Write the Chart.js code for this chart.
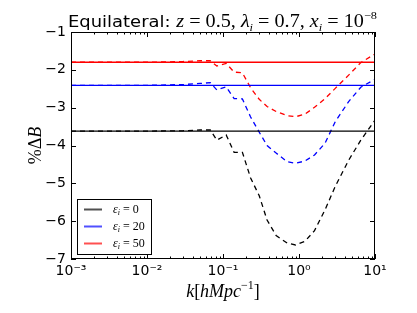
<!DOCTYPE html>
<html>
<head>
<meta charset="utf-8">
<script src="https://cdn.jsdelivr.net/npm/chart.js"></script>
<style>
  html, body { margin: 0; padding: 0; background: #fff; }
  canvas { display: block; }
</style>
</head>
<body>
<canvas id="chart" width="417" height="313"></canvas>
<script>
const k = [0.001, 0.01, 0.03, 0.05, 0.068, 0.083, 0.11, 0.14, 0.18, 0.23, 0.3, 0.38,
           0.5, 0.7, 0.9, 1.2, 1.6, 2.2, 3, 4.5, 6.5, 10];
// %ΔB, dashed curves
const deltaEps0 = [-3.62, -3.62, -3.61, -3.59, -3.59, -3.86, -3.72, -4.18, -4.18, -4.85, -5.33, -5.97,
                   -6.38, -6.58, -6.63, -6.53, -6.25, -5.70, -5.08, -4.39, -3.86, -3.33];
const deltaEps20 = [-2.41, -2.41, -2.39, -2.36, -2.34, -2.53, -2.45, -2.76, -2.77, -3.24, -3.65, -4.00,
                    -4.20, -4.43, -4.47, -4.41, -4.25, -3.94, -3.37, -2.84, -2.46, -2.25];
const deltaEps50 = [-1.80, -1.80, -1.78, -1.76, -1.76, -1.90, -1.83, -2.06, -2.08, -2.47, -2.78, -2.97,
                    -3.10, -3.21, -3.24, -3.17, -2.99, -2.76, -2.49, -2.14, -1.81, -1.58];
// solid reference levels
const kEnds = [0.001, 10];
const baseLevels = [-3.62, -2.41, -1.80];
const epsValues = ["0", "20", "50"];
const xTickValues = [0.001, 0.01, 0.1, 1, 10];
const xTickLabels = ["10⁻³", "10⁻²", "10⁻¹", "10⁰", "10¹"];
const yMin = -7, yMax = -1;

const colors = ["#000000", "#0000ff", "#ff0000"];
const legendColors = ["#505050", "#5050ff", "#ff5050"];
const curves = [deltaEps0, deltaEps20, deltaEps50];

const SERIF = "'Liberation Serif', serif";
const SANS = "'DejaVu Sans', sans-serif";

const datasets = [];
curves.forEach((c, i) => {
  datasets.push({
    label: "eps=" + epsValues[i],
    data: kEnds.map(x => ({ x: x, y: baseLevels[i] })),
    borderColor: colors[i],
    borderWidth: 1.3,
    pointRadius: 0,
    fill: false
  });
  datasets.push({
    label: "eps=" + epsValues[i] + " (dashed)",
    data: k.map((x, j) => ({ x: x, y: c[j] })),
    borderColor: colors[i],
    borderWidth: 1.3,
    borderDash: [5, 4],
    pointRadius: 0,
    fill: false,
    tension: 0
  });
});

// draws a run of text pieces with different fonts
function drawRich(ctx, segs, x0, y0, fitWidth) {
  let total = 0;
  segs.forEach(s => { ctx.font = s[1]; total += ctx.measureText(s[0]).width; });
  const sc = fitWidth ? fitWidth / total : 1;
  ctx.save();
  ctx.translate(x0, y0);
  ctx.scale(sc, 1);
  let cx = 0;
  ctx.textBaseline = "alphabetic";
  ctx.textAlign = "left";
  segs.forEach(s => {
    ctx.font = s[1];
    ctx.fillText(s[0], cx, s[2] || 0);
    cx += ctx.measureText(s[0]).width;
  });
  ctx.restore();
  return total * sc;
}
function richWidth(ctx, segs) {
  let total = 0;
  segs.forEach(s => { ctx.font = s[1]; total += ctx.measureText(s[0]).width; });
  return total;
}

const decorations = {
  id: "decorations",
  afterDraw(chart) {
    const ctx = chart.ctx;
    const a = chart.chartArea;
    const xs = chart.scales.x, ys = chart.scales.y;
    ctx.save();
    ctx.strokeStyle = "#000";
    ctx.fillStyle = "#000";
    ctx.lineWidth = 1;
    // frame
    ctx.strokeRect(Math.round(a.left) + 0.5, Math.round(a.top) + 0.5,
                   Math.round(a.right - a.left) - 1, Math.round(a.bottom - a.top) - 1);
    // x ticks (major + minor), inward, top and bottom
    ctx.beginPath();
    for (let d = -3; d <= 1; d++) {
      for (let m = 1; m <= 9; m++) {
        const v = m * Math.pow(10, d);
        if (v > 10.0001) break;
        const px = Math.round(xs.getPixelForValue(v)) + 0.5;
        const len = m === 1 ? 5 : 2.5;
        ctx.moveTo(px, a.bottom); ctx.lineTo(px, a.bottom - len);
        ctx.moveTo(px, a.top); ctx.lineTo(px, a.top + len);
      }
    }
    // y ticks, inward, left and right
    for (let v = yMin; v <= yMax; v++) {
      const py = Math.round(ys.getPixelForValue(v)) + 0.5;
      ctx.moveTo(a.left, py); ctx.lineTo(a.left + 5, py);
      ctx.moveTo(a.right, py); ctx.lineTo(a.right - 5, py);
    }
    ctx.stroke();

    // title
    const sub = "italic 11px " + SERIF;
    const it = "italic 18px " + SERIF;
    const rm = "18px " + SERIF;
    drawRich(ctx, [
      ["Equilateral: ", "16px " + SANS, 0],
      ["z", it, 0], [" = 0.5, ", rm, 0],
      ["λ", it, 0], ["i", sub, 4], [" = 0.7, ", rm, 0],
      ["x", it, 0], ["i", sub, 4], [" = 10", rm, 0],
      ["−8", "11px " + SERIF, -8]
    ], 68, 27, 309);

    // y label
    const ySegs = [["%", "18px " + SERIF, 0], ["Δ", "18px " + SERIF, 0], ["B", "italic 18px " + SERIF, 0]];
    ctx.save();
    ctx.translate(41, (a.top + a.bottom) / 2);
    ctx.rotate(-Math.PI / 2);
    drawRich(ctx, ySegs, -richWidth(ctx, ySegs) / 2, 0);
    ctx.restore();

    // x label
    const xSegs = [["k", it, 0], ["[", rm, 0], ["hMpc", it, 0], ["−1", "12px " + SERIF, -8], ["]", rm, 0]];
    drawRich(ctx, xSegs, (a.left + a.right) / 2 - richWidth(ctx, xSegs) / 2, 297);

    // legend
    ctx.fillStyle = "#fff";
    ctx.fillRect(77, 199, 74, 55);
    ctx.strokeStyle = "#000";
    ctx.strokeRect(77.5, 199.5, 74, 55);
    ctx.fillStyle = "#000";
    epsValues.forEach((e, i) => {
      const y = 209 + i * 17;
      ctx.strokeStyle = legendColors[i];
      ctx.lineWidth = 2;
      ctx.beginPath();
      ctx.moveTo(84, y + 0.5); ctx.lineTo(102, y + 0.5);
      ctx.stroke();
      drawRich(ctx, [
        ["ε", "italic 12px " + SERIF, 0], ["i", "italic 8px " + SERIF, 2],
        [" = " + e, "12px " + SERIF, 0]
      ], 113, y + 4);
    });
    ctx.restore();
  }
};

new Chart(document.getElementById("chart"), {
  type: "line",
  data: { datasets: datasets },
  options: {
    responsive: false,
    devicePixelRatio: 1,
    animation: false,
    layout: { padding: { left: 0, right: 42, top: 32, bottom: 0 } },
    plugins: { legend: { display: false }, tooltip: { enabled: false }, title: { display: false } },
    scales: {
      x: {
        type: "logarithmic",
        min: 0.001, max: 10,
        afterBuildTicks: s => { s.ticks = xTickValues.map(v => ({ value: v })); },
        afterFit: s => { s.height = 54; },
        grid: { display: false, drawTicks: false },
        border: { display: false },
        ticks: {
          autoSkip: false, maxRotation: 0, padding: 4,
          color: "#000",
          font: { family: "DejaVu Sans", size: 14 },
          callback: v => { const i = xTickValues.indexOf(v); return i >= 0 ? xTickLabels[i] : ""; }
        }
      },
      y: {
        min: yMin, max: yMax,
        afterFit: s => { s.width = 71; },
        grid: { display: false, drawTicks: false },
        border: { display: false },
        ticks: {
          stepSize: 1, padding: 5,
          color: "#000",
          font: { family: "DejaVu Sans", size: 14 },
          callback: v => String(v).replace("-", "−")
        }
      }
    }
  },
  plugins: [decorations]
});
</script>
</body>
</html>
